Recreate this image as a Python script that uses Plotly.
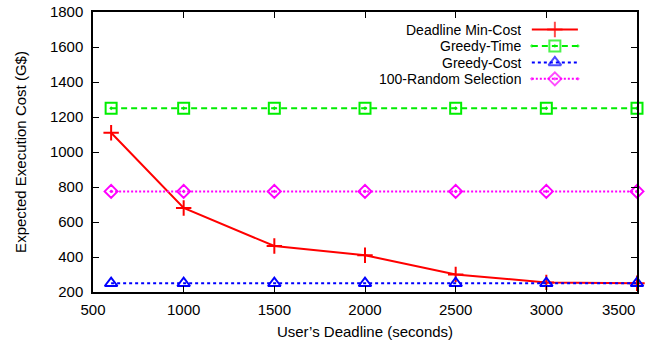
import plotly.graph_objects as go

deadlines = [600, 1000, 1500, 2000, 2500, 3000, 3500]
deadline_min_cost = [1110, 680, 463, 410, 300, 255, 250]
greedy_time = [1250, 1250, 1250, 1250, 1250, 1250, 1250]
greedy_cost = [250, 250, 250, 250, 250, 250, 250]
random_sel = [775, 775, 775, 775, 775, 775, 775]
x_ticks = [500, 1000, 1500, 2000, 2500, 3000, 3500]
y_ticks = [200, 400, 600, 800, 1000, 1200, 1400, 1600, 1800]

names = ["Deadline Min-Cost", "Greedy-Time", "Greedy-Cost", "100-Random Selection"]
colors = ["#ff0000", "#00ee00", "#0000ff", "#ff00ff"]
dashes = ["solid", "6px,4px", "3px,3px", "2px,2px"]
symbols = ["cross-thin-open", "square-open-dot", "triangle-up-open", "diamond-open-dot"]
sizes = [11, 11, 11, 10]
series = [deadline_min_cost, greedy_time, greedy_cost, random_sel]

FONT = "Liberation Sans, Arial, Helvetica, sans-serif"

fig = go.Figure()
for nm, ys, c, d, s, sz in zip(names, series, colors, dashes, symbols, sizes):
    fig.add_trace(go.Scatter(
        x=deadlines, y=ys, mode="lines+markers", name=nm, cliponaxis=False,
        line=dict(color=c, width=2, dash=d),
        marker=dict(symbol=s, size=sz, color=c, line=dict(color=c, width=2)),
        showlegend=False,
    ))

# gnuplot-style key: label on the left, line sample on the right
key_rows = [1700, 1606, 1512, 1418]
key_x = [2920, 3047, 3174]
for nm, c, d, s, sz, ky in zip(names, colors, dashes, symbols, sizes, key_rows):
    fig.add_trace(go.Scatter(
        x=key_x, y=[ky] * 3, mode="lines+markers", showlegend=False,
        hoverinfo="skip", cliponaxis=False,
        line=dict(color=c, width=2, dash=d),
        marker=dict(symbol=s, size=[0, sz, 0], color=c, line=dict(color=c, width=2)),
    ))
    fig.add_annotation(x=2865, y=ky, text=nm, showarrow=False,
                       xanchor="right", yanchor="middle", height=15, borderpad=0,
                       font=dict(family=FONT, size=14, color="black"))

# last x tick label is shifted left to stay inside the page (as gnuplot does)
fig.add_annotation(x=3500, y=0, xref="x", yref="paper", yshift=-7, text="3500",
                   showarrow=False, xanchor="right", yanchor="top",
                   font=dict(family=FONT, size=15, color="black"))

axis_common = dict(showline=True, linecolor="black", linewidth=1.5, mirror="ticks",
                   ticks="inside", ticklen=6, tickcolor="black", showgrid=False,
                   zeroline=False, tickfont=dict(family=FONT, size=15, color="black"))

fig.update_layout(
    width=645, height=341,
    margin=dict(l=93, r=8, t=12, b=49, autoexpand=False),
    paper_bgcolor="white", plot_bgcolor="white",
    xaxis=dict(range=[500, 3500], tickvals=x_ticks,
               ticktext=[str(v) for v in x_ticks[:-1]] + [""],
               ticklabelstandoff=3,
               title=dict(text="User\u2019s Deadline (seconds)", standoff=10,
                          font=dict(family=FONT, size=15, color="black")),
               **axis_common),
    yaxis=dict(range=[200, 1800], tickvals=y_ticks, ticklabelstandoff=5,
               title=dict(text="Expected Execution Cost (G$)", standoff=20,
                          font=dict(family=FONT, size=15, color="black")),
               **axis_common),
)

fig.write_html("out.html", config={"displayModeBar": False},
               post_script="document.body.style.margin='0';document.body.style.overflow='hidden';")
